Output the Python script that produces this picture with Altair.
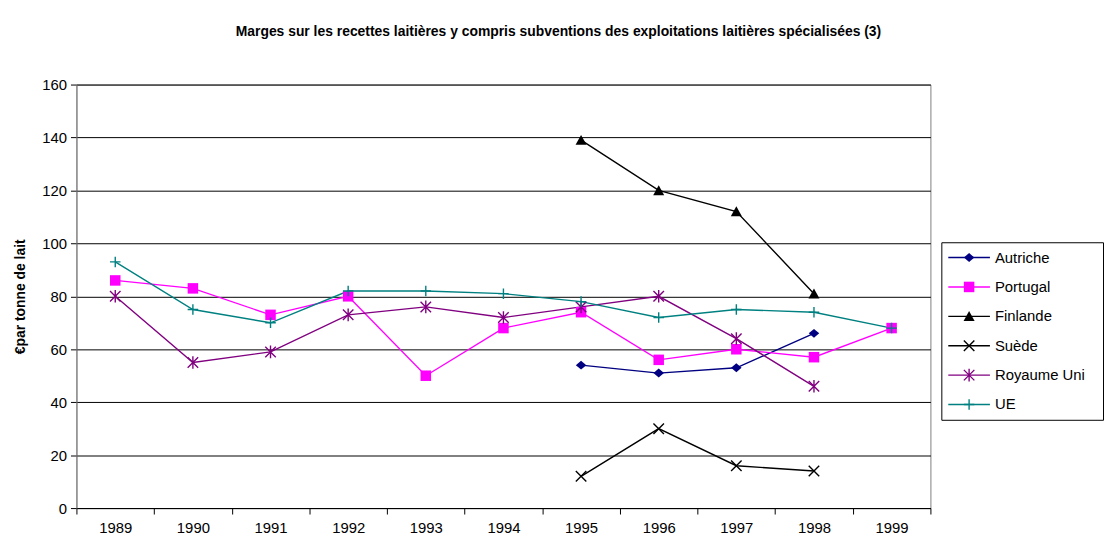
import altair as alt
import pandas as pd

years = ["1989", "1990", "1991", "1992", "1993", "1994", "1995", "1996", "1997", "1998", "1999"]
series = ["Autriche", "Portugal", "Finlande", "Suède", "Royaume Uni", "UE"]
colors = ["#000080", "#FF00FF", "#000000", "#000000", "#800080", "#008080"]
shapes = [
    "M-1,0L0,-0.85L1,0L0,0.85Z",
    "M-1,-1L1,-1L1,1L-1,1Z",
    "M0,-1L1.05,0.9L-1.05,0.9Z",
    "M-1,-1L1,1M-1,1L1,-1",
    "M-1,-1L1,1M-1,1L1,-1M0,-1.2L0,1.2",
    "M-1,0L1,0M0,-1L0,1",
]
filled_series = ["Autriche", "Portugal", "Finlande"]

autriche = [None, None, None, None, None, None, 54, 51, 53, 66, None]
portugal = [86, 83, 73, 80, 50, 68, 74, 56, 60, 57, 68]
finlande = [None, None, None, None, None, None, 139, 120, 112, 81, None]
suede = [None, None, None, None, None, None, 12, 30, 16, 14, None]
royaume_uni = [80, 55, 59, 73, 76, 72, 76, 80, 64, 46, None]
ue = [93, 75, 70, 82, 82, 81, 78, 72, 75, 74, 68]

values = [autriche, portugal, finlande, suede, royaume_uni, ue]
rows = []
for name, vals in zip(series, values):
    for yr, v in zip(years, vals):
        if v is not None:
            rows.append({"year": yr, "value": v, "series": name})
df = pd.DataFrame(rows)

FONT = "Liberation Sans"
MSIZE = 112

cscale = alt.Scale(domain=series, range=colors)
sscale = alt.Scale(domain=series, range=shapes)

x_enc = alt.X(
    "year:O",
    sort=years,
    scale=alt.Scale(type="band", domain=years, paddingInner=0, paddingOuter=0),
    axis=alt.Axis(
        title=None, labelAngle=0, labelFontSize=15, labelColor="#000000",
        tickBand="extent", tickSize=6, tickColor="#000000", domainColor="#000000",
        labelPadding=7, grid=False, labelFont=FONT,
    ),
)
y_enc = alt.Y(
    "value:Q",
    scale=alt.Scale(domain=[0, 160], nice=False),
    axis=alt.Axis(
        title="€par tonne de lait", titleFontSize=14, titleFontWeight="bold",
        titleColor="#000000", titleFont=FONT, titlePadding=14,
        values=[0, 20, 40, 60, 80, 100, 120, 140, 160],
        labelFontSize=15, labelColor="#000000", labelFont=FONT, labelPadding=4,
        tickSize=6, tickColor="#000000", domainColor="#808080",
        grid=True, gridColor="#000000", gridWidth=1,
    ),
)

base = alt.Chart(df).encode(x=x_enc, y=y_enc)

lines = base.mark_line(strokeWidth=1.4).encode(
    color=alt.Color("series:N", scale=cscale, legend=None),
    detail="series:N",
)
pts_filled = base.transform_filter(
    alt.FieldOneOfPredicate(field="series", oneOf=filled_series)
).mark_point(filled=True, size=MSIZE, opacity=1).encode(
    color=alt.Color("series:N", scale=cscale, legend=None),
    shape=alt.Shape("series:N", scale=sscale, legend=None),
)
pts_open = base.transform_filter(
    ~alt.FieldOneOfPredicate(field="series", oneOf=filled_series)
).mark_point(filled=False, size=MSIZE, opacity=1, strokeWidth=1.4).encode(
    color=alt.Color("series:N", scale=cscale, legend=None),
    shape=alt.Shape("series:N", scale=sscale, legend=None),
)

main = alt.layer(lines, pts_filled, pts_open).properties(
    width=861, height=427,
    view=alt.ViewBackground(stroke="#808080", strokeWidth=1, fill="#FFFFFF"),
)

# Legend panel
leg_df = pd.DataFrame({"series": series})
ly = alt.Y("series:N", scale=alt.Scale(type="point", domain=series, padding=0.52), axis=None)
leg_base = alt.Chart(leg_df).encode(y=ly)
leg_rules = leg_base.mark_rule(strokeWidth=1.4).encode(
    x=alt.value(7), x2=alt.value(49),
    color=alt.Color("series:N", scale=cscale, legend=None),
)
leg_pf = leg_base.transform_filter(
    alt.FieldOneOfPredicate(field="series", oneOf=filled_series)
).mark_point(filled=True, size=MSIZE, opacity=1).encode(
    x=alt.value(28),
    color=alt.Color("series:N", scale=cscale, legend=None),
    shape=alt.Shape("series:N", scale=sscale, legend=None),
)
leg_po = leg_base.transform_filter(
    ~alt.FieldOneOfPredicate(field="series", oneOf=filled_series)
).mark_point(filled=False, size=MSIZE, opacity=1, strokeWidth=1.4).encode(
    x=alt.value(28),
    color=alt.Color("series:N", scale=cscale, legend=None),
    shape=alt.Shape("series:N", scale=sscale, legend=None),
)
leg_text = leg_base.mark_text(align="left", baseline="middle", fontSize=15, font=FONT, color="#000000").encode(
    x=alt.value(54), text="series:N",
)
legend = alt.layer(leg_rules, leg_pf, leg_po, leg_text).properties(
    width=163, height=179,
    view=alt.ViewBackground(stroke="#000000", strokeWidth=1, fill="#FFFFFF"),
)

spacer = alt.Chart(pd.DataFrame({"a": [0]})).mark_point(opacity=0).encode(
    x=alt.value(0), y=alt.value(0)
).properties(width=163, height=157, view=alt.ViewBackground(stroke="transparent"))

right = alt.vconcat(spacer, legend, spacing=0)

chart = alt.hconcat(main, right, spacing=6).properties(
    title=alt.TitleParams(
        text="Marges sur les recettes laitières y compris subventions des exploitations laitières spécialisées (3)",
        fontSize=14, fontWeight="bold", font=FONT, color="#000000", anchor="middle", offset=38,
    ),
    padding={"left": 5, "top": 15, "right": 0, "bottom": 0},
    background="#FFFFFF",
).configure(font=FONT)

chart.save("out.html", embed_options={"renderer": "svg", "actions": False})
